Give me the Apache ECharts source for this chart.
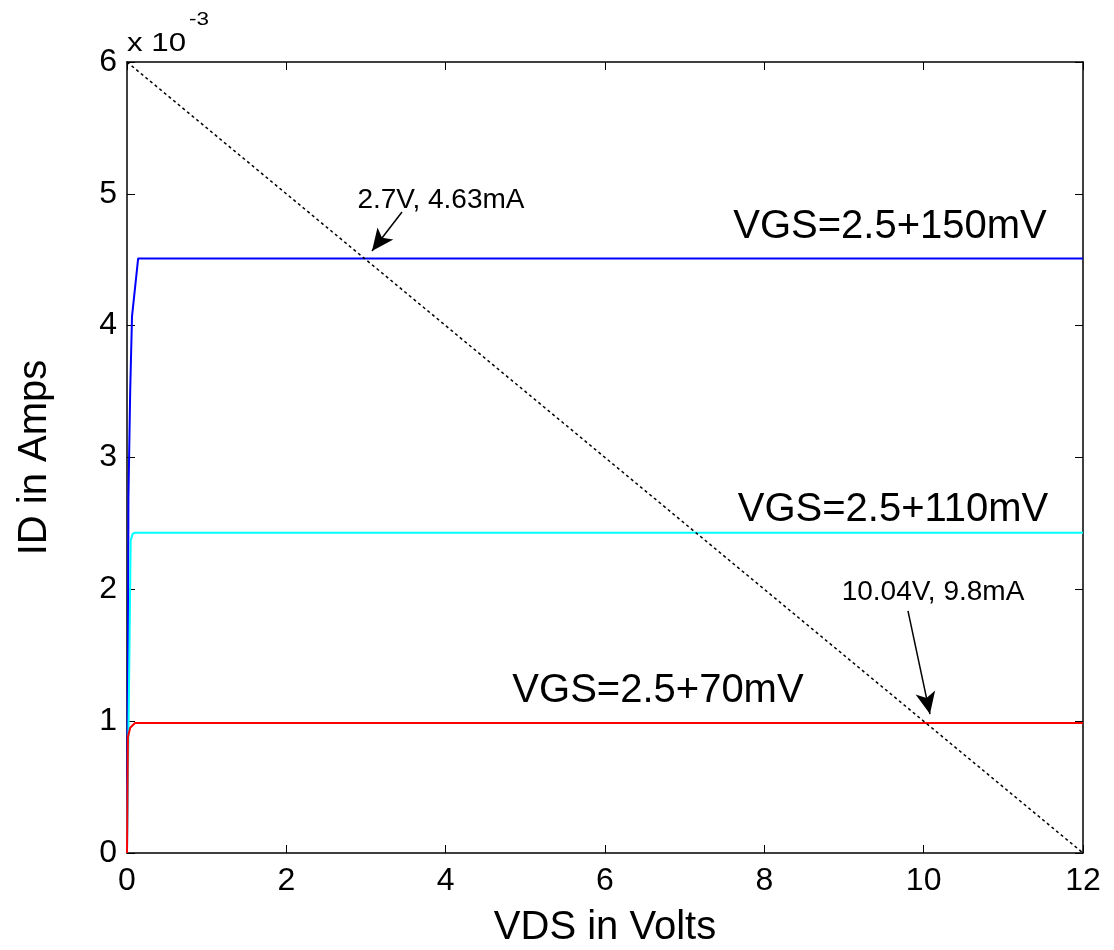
<!DOCTYPE html>
<html>
<head>
<meta charset="utf-8">
<script src="https://cdn.jsdelivr.net/npm/echarts@6/dist/echarts.min.js"></script>
<style>html,body{margin:0;padding:0;background:#fff;}#c{width:1114px;height:950px;}</style>
</head>
<body>
<div id="c"></div>
<script>
// Data (ID in units of 1e-3 A, VDS in volts)
const blueCurve = [[0,0],[0.012,1.5],[0.018,2.7],[0.04,3.5],[0.063,4.07],[0.14,4.51],[12,4.51]];
const cyanCurve = [[0,0],[0.03,1.5],[0.046,2.37],[0.07,2.42],[0.1,2.43],[12,2.43]];
const redCurve  = [[0,0],[0.012,0.88],[0.04,0.95],[0.1,0.986],[12,0.986]];
const loadLine  = [[0,6],[12,0]];
const xTicks = [0,2,4,6,8,10,12];
const yTicks = [0,1,2,3,4,5,6];
const curveLabels = ['VGS=2.5+150mV','VGS=2.5+110mV','VGS=2.5+70mV'];
const pointLabels = ['2.7V, 4.63mA','10.04V, 9.8mA'];

const FONT = "'Liberation Sans', Arial, sans-serif";
const chart = echarts.init(document.getElementById('c'), null, {renderer:'canvas'});

function txt(coord, text, size){
  return {coord: coord, value: text, symbol:'circle', symbolSize:1,
    itemStyle:{color:'rgba(0,0,0,0)'},
    label:{show:true, position:'inside', formatter:text, fontSize:size, color:'#000', fontFamily:FONT}};
}
function arrow(from, to){
  return [{coord: from}, {coord: to}];
}

const axisCommon = {
  type:'value', min:0, splitLine:{show:false},
  axisLine:{show:true, onZero:false, lineStyle:{color:'#000', width:1.5}},
  axisTick:{show:true, inside:true, length:8, lineStyle:{color:'#000', width:1}},
};

chart.setOption({
  animation:false,
  backgroundColor:'#fff',
  graphic:[
    {type:'text', left:127, top:32, scaleX:1.25, silent:true,
      style:{text:'x 10', fill:'#000', fontSize:25, fontFamily:FONT}},
    {type:'text', left:189, top:11, scaleX:1.25, silent:true,
      style:{text:'-3', fill:'#000', fontSize:18, fontFamily:FONT}}
  ],
  grid:{left:127, right:31, top:62, bottom:97, containLabel:false, outerBoundsMode:'none'},
  xAxis:[
    Object.assign({}, axisCommon, {max:12, interval:2, position:'bottom',
      name:'VDS in Volts', nameLocation:'middle', nameGap:55,
      nameTextStyle:{fontSize:40, color:'#000', fontFamily:FONT},
      axisLabel:{show:true, fontSize:32, color:'#000', fontFamily:FONT, margin:12,
        formatter:(v)=> xTicks.includes(v) ? String(v) : ''}}),
    Object.assign({}, axisCommon, {max:12, interval:2, position:'top', axisLabel:{show:false}})
  ],
  yAxis:[
    Object.assign({}, axisCommon, {max:6, interval:1, position:'left',
      name:'ID in Amps', nameLocation:'middle', nameGap:72,
      nameTextStyle:{fontSize:40, color:'#000', fontFamily:FONT},
      axisLabel:{show:true, fontSize:32, color:'#000', fontFamily:FONT, margin:10,
        formatter:(v)=> yTicks.includes(v) ? String(v) : ''}}),
    Object.assign({}, axisCommon, {max:6, interval:1, position:'right', axisLabel:{show:false}})
  ],
  series:[
    {type:'line', data:blueCurve, showSymbol:false, lineStyle:{color:'#0000ff', width:2}, itemStyle:{color:'#0000ff'},
      markPoint:{silent:true, data:[txt([9.577,4.749], curveLabels[0], 40)]}},
    {type:'line', data:cyanCurve, showSymbol:false, lineStyle:{color:'#00ffff', width:2}, itemStyle:{color:'#00ffff'},
      markPoint:{silent:true, data:[txt([9.615,2.600], curveLabels[1], 40)]}},
    {type:'line', data:redCurve, showSymbol:false, lineStyle:{color:'#ff0000', width:2}, itemStyle:{color:'#ff0000'},
      markPoint:{silent:true, data:[txt([6.665,1.229], curveLabels[2], 40)]}},
    {type:'line', data:loadLine, showSymbol:false, lineStyle:{color:'#000', width:1.5, type:[3,3]}, itemStyle:{color:'#000'},
      markPoint:{silent:true, data:[txt([3.941,4.953], pointLabels[0], 28), txt([10.117,1.98], pointLabels[1], 28)]},
      markLine:{silent:true, symbol:['none','arrow'], symbolSize:[15,22],
        lineStyle:{color:'#000', width:1.5, type:'solid'}, label:{show:false},
        data:[arrow([3.452,4.862],[3.075,4.567]), arrow([9.803,1.836],[10.079,1.054])]}}
  ]
});
</script>
</body>
</html>
